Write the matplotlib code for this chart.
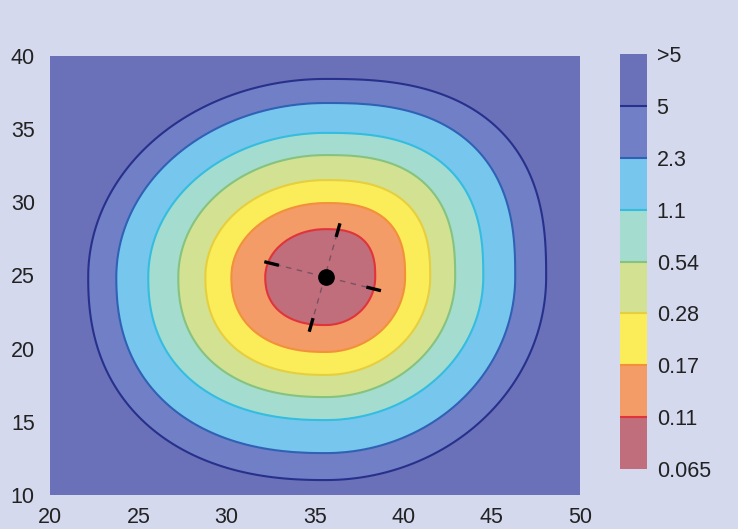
import numpy as np
import matplotlib.pyplot as plt

plt.rcParams['font.family'] = ['Liberation Sans', 'DejaVu Sans']

# colour bar boundaries and their labels
levels = [0.065, 0.11, 0.17, 0.28, 0.54, 1.1, 2.3, 5]
level_labels = ['0.065', '0.11', '0.17', '0.28', '0.54', '1.1', '2.3', '5', '>5']
top_level = 100.0

fill_colors = ['#c06e7c', '#f39c67', '#fbec5a', '#d3e192', '#a5dcd0',
               '#77c6ee', '#7180c6', '#6a71b9']
# contour line colours for 0.11 ... 5
line_colors = ['#e0343a', '#f2913a', '#e6cf3e', '#86c37e', '#35bde0',
               '#2f62b5', '#27318c']

# centre of the surface (black dot)
centre_x = 35.6
centre_y = 24.9

# distance from the centre to each contour (0.11 ... 5), read along four directions
reach_left = [3.42, 5.34, 6.81, 8.34, 10.04, 11.85, 13.44]
reach_right = [2.81, 4.50, 5.92, 7.33, 8.92, 10.73, 12.48]
reach_up = [3.27, 5.05, 6.62, 8.33, 9.84, 11.89, 13.53]
reach_down = [3.29, 5.13, 6.70, 8.21, 9.78, 12.04, 13.88]
# squareness of each quadrant (2 = ellipse): upper-right, upper-left, lower-left, lower-right
quad_power = [2.6, 2.0, 2.3, 2.0]

# error cross: ends of the two axes
cross_a_x = [32.13, 38.73]
cross_a_y = [25.94, 23.96]
cross_b_x = [36.41, 34.67]
cross_b_y = [28.56, 21.16]
tip_frac = 0.25

# build a surface whose contours pass through the read extents
xg = np.linspace(20, 50, 481)
yg = np.linspace(10, 40, 481)
X, Y = np.meshgrid(xg, yg)
dx = X - centre_x
dy = Y - centre_y
r = np.maximum(np.hypot(dx, dy), 1e-9)
c = np.abs(dx) / r
s = np.abs(dy) / r
a = np.where(dx >= 0, np.array(reach_right)[:, None, None], np.array(reach_left)[:, None, None])
b = np.where(dy >= 0, np.array(reach_up)[:, None, None], np.array(reach_down)[:, None, None])
p = np.where(dy >= 0,
             np.where(dx >= 0, quad_power[0], quad_power[1]),
             np.where(dx < 0, quad_power[2], quad_power[3]))
R = ((c / a) ** p + (s / b) ** p) ** (-1.0 / p)
R = np.concatenate([np.zeros((1,) + r.shape), R], axis=0)

idx = np.zeros_like(r)
n = len(levels) - 1
for k in range(n):
    inside = (r >= R[k]) & (r < R[k + 1])
    idx[inside] = (k + (r - R[k]) / (R[k + 1] - R[k]))[inside]
outer = r >= R[n]
idx[outer] = (n + (r - R[n]) / (R[n] - R[n - 1]))[outer]

logl = np.log(levels)
logz = np.interp(idx, np.arange(len(levels)), logl)
logz = np.where(idx > n, logl[-1] + (idx - n) * (logl[-1] - logl[-2]), logz)
Z = np.minimum(np.exp(logz), top_level * 0.99)

fig = plt.figure(figsize=(7.38, 5.29), dpi=100, facecolor='#d4d9ee')
ax = fig.add_axes([0.0678, 0.0643, 0.7182, 0.8299])

cf = ax.contourf(X, Y, Z, levels=levels + [top_level], colors=fill_colors)
cs = ax.contour(X, Y, Z, levels=levels[1:], colors=line_colors, linewidths=1.5)

# error cross
for ex, ey in [(cross_a_x, cross_a_y), (cross_b_x, cross_b_y)]:
    ax.plot(ex, ey, color='#6b4a5c', lw=1.0, ls=(0, (4, 4)), alpha=0.8)
    mx, my = np.mean(ex), np.mean(ey)
    for px, py in zip(ex, ey):
        ax.plot([px, px + tip_frac * (mx - px)], [py, py + tip_frac * (my - py)],
                color='black', lw=2.4, solid_capstyle='butt')
ax.plot(centre_x, centre_y, 'o', color='black', ms=11)

ax.set_xlim(20, 50)
ax.set_ylim(10, 40)
ax.set_xticks(range(20, 51, 5))
ax.set_yticks(range(10, 41, 5))
ax.tick_params(length=0, labelsize=15.5, labelcolor='#222222')
ax.tick_params(axis='y', pad=11)
ax.tick_params(axis='x', pad=9)
for sp in ax.spines.values():
    sp.set_visible(False)

cax = fig.add_axes([0.840, 0.1134, 0.0366, 0.7845])
cbar = fig.colorbar(cf, cax=cax, ticks=levels + [top_level])
cbar.ax.set_yticklabels(level_labels)
cbar.add_lines(cs)
cbar.outline.set_visible(False)
cbar.ax.tick_params(length=0, pad=7, labelsize=15.5, labelcolor='#222222')

fig.savefig('out.png', dpi=100, facecolor=fig.get_facecolor())
